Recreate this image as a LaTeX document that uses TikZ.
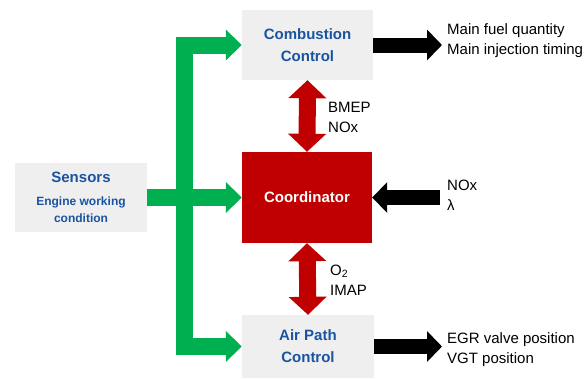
\documentclass[tikz,border=0pt]{standalone}
\usepackage{fontspec}
\setmainfont{Liberation Sans}
\usepackage{xcolor}
\usetikzlibrary{arrows.meta, positioning}
\definecolor{boxgray}{HTML}{EFEFEF}
\definecolor{ctrlblue}{HTML}{1A54A0}
\definecolor{busgreen}{HTML}{00B050}
\definecolor{coordred}{HTML}{C00000}
\tikzset{
x=1pt, y=-1pt, % work in pixels, y pointing down
ctrl/.style={fill=boxgray, text=ctrlblue, font=\bfseries\fontsize{15}{22}\selectfont, align=center, inner sep=0pt}, % grey controller boxes
greenarrow/.style={draw=busgreen, line width=17pt, line join=miter, -{Triangle[width=30pt, length=16pt]}}, % sensor bus
redarrow/.style={draw=coordred, line width=17pt, {Triangle[width=37pt, length=18pt]}-{Triangle[width=37pt, length=18pt]}}, % exchange with coordinator
blackarrow/.style={draw=black, line width=15pt, -{Triangle[width=30pt, length=15pt]}}, % inputs and outputs
sig/.style={anchor=west, align=left, inner sep=0pt, font=\fontsize{15}{20}\selectfont}, % signal names
}

\begin{document}
\begin{tikzpicture}
    \useasboundingbox (0,0) rectangle (584,378);

    \node[ctrl, minimum width=132pt, minimum height=69pt] (sens) at (81,197.5)
        {Sensors\\[1pt]{\fontsize{12}{16}\selectfont Engine working}\\[-5pt]{\fontsize{12}{16}\selectfont condition}};
    \node[ctrl, minimum width=131pt, minimum height=70pt] (comb) at (307.5,45) {Combustion\\Control};
    \node[fill=coordred, text=white, font=\bfseries\fontsize{15}{18}\selectfont, inner sep=0pt,
          minimum width=130pt, minimum height=91pt] (coord) at (307,197.5) {Coordinator};
    \node[ctrl, minimum width=132pt, minimum height=63pt] (air) at (308,346.5) {Air Path\\Control};

    \coordinate (bus) at (184,197.5);
    \coordinate (fuelend) at (442,45);
    \coordinate (noxin) at (440,197.5);
    \coordinate (egrend) at (442,346.5);

    % green sensor bus
    \draw[greenarrow, {Triangle[width=30pt, length=16pt]}-{Triangle[width=30pt, length=16pt]}]
        (comb.west) -| (bus) |- (air.west);
    \draw[greenarrow] (sens) -- (coord);

    % coordinator links
    \draw[redarrow] (comb.south) -- (coord.north);
    \draw[redarrow] (coord.south) -- (air.north);
    \node[sig] (combsig) at (328,117) {BMEP\\NOx};
    \node[sig] (airsig) at (330,280) {O\textsubscript{2}\\IMAP};

    % actuators and measurements
    \draw[blackarrow] (comb.east) -- (fuelend);
    \draw[blackarrow] (noxin) -- (coord.east);
    \draw[blackarrow] (air.east) -- (egrend);
    \node[sig] (fuel) at (447,41) {Main fuel quantity\\Main injection timing};
    \node[sig] (nox) at (447,195) {NOx\\λ};
    \node[sig] (egr) at (447,350) {EGR valve position\\VGT position};

\end{tikzpicture}
\end{document}
